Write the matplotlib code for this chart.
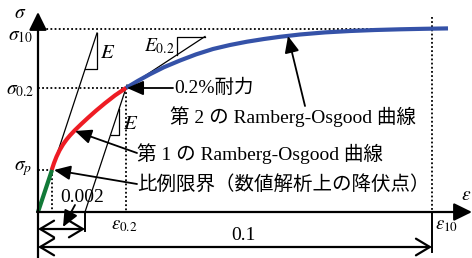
import matplotlib
matplotlib.use("Agg")
import matplotlib.pyplot as plt

plt.rcParams['mathtext.fontset'] = 'stix'
FAM = ['Liberation Serif', 'Noto Sans CJK JP', 'DejaVu Sans']

# ---- schematic data (horizontal = strain axis units, vertical = stress axis units) ----
eps_p, sig_p = 14, 42
eps_02, sig_02 = 88, 124
eps_10, sig_10 = 394, 183
offset_002 = 47

green_x = [0, 14]
green_y = [0, 42]

red_x = [13.7, 16, 18.5, 21.5, 25, 28.5, 32, 37, 43, 50, 58, 67, 77, 88]
red_y = [42, 48.9, 55.3, 61.6, 67.5, 72.4, 76.6, 81.9, 87.7, 94.2, 101.3, 108.8, 116.6, 124.1]

blue_x = [88, 100, 112, 126, 142, 158, 175, 192, 209, 226, 242, 262, 287, 312, 337, 362, 386, 410]
blue_y = [124, 131.2, 137.8, 144.8, 151.5, 157.6, 163, 167, 170.3, 173, 175.2, 177.5, 179.6, 181, 182, 182.7, 183.2, 183.6]

E_line_x = [0, 59]
E_line_y = [0, 179]
E_tri_x = [47, 59, 59]
E_tri_y = [143, 143, 179]

off_line_x = [47, 89]
off_line_y = [0, 127]
off_tri_x = [72.5, 81, 81]
off_tri_y = [77, 77, 102.7]

tan_x = [70, 167]
tan_y = [112, 175.5]
tan_tri_x = [139, 139, 167]
tan_tri_y = [157, 175.5, 175.5]

fig = plt.figure(figsize=(4.72, 2.58), dpi=100)
ax = fig.add_axes([0, 0, 1, 1])
ax.set_xlim(-38, 434)
ax.set_ylim(-46, 212)
ax.axis('off')

dot = dict(color='black', lw=1.3, linestyle=(0, (1, 1.3)))
thin = dict(color='black', lw=0.9)

# dotted guides
ax.plot([0, eps_10], [sig_10, sig_10], **dot)
ax.plot([eps_10, eps_10], [195, 0], **dot)
ax.plot([0, eps_02], [sig_02, sig_02], **dot)
ax.plot([eps_02, eps_02], [sig_02, 0], **dot)
ax.plot([0, eps_p], [sig_p, sig_p], **dot)
ax.plot([eps_p, eps_p], [sig_p, 0], **dot)

# construction lines
ax.plot(E_line_x, E_line_y, **thin)
ax.plot(E_tri_x, E_tri_y, **thin)
ax.plot(off_line_x, off_line_y, **thin)
ax.plot(off_tri_x, off_tri_y, **thin)
ax.plot(tan_x, tan_y, **thin)
ax.plot(tan_tri_x, tan_tri_y, **thin)

# curves
ax.plot(blue_x, blue_y, color='#3552a8', lw=3.0, solid_capstyle='butt', solid_joinstyle='round', zorder=3)
ax.plot(red_x, red_y, color='#ee1c24', lw=3.0, solid_capstyle='butt', solid_joinstyle='round', zorder=3)
ax.plot(green_x, green_y, color='#127a38', lw=3.0, solid_capstyle='butt', zorder=3)

# axes with arrows
axkw = dict(arrowstyle='-|>,head_length=0.55,head_width=0.27', color='black', lw=1.6,
            shrinkA=0, shrinkB=0, mutation_scale=20)
ax.annotate('', xy=(0, 200), xytext=(0, -46), arrowprops=axkw, zorder=4)
ax.annotate('', xy=(434, 0), xytext=(-1, 0), arrowprops=axkw, zorder=4)

# dimension lines
ax.plot([offset_002, offset_002], [-1, -19], color='black', lw=1.4)
ax.plot([eps_10, eps_10], [-1, -40], color='black', lw=1.4)
dimkw = dict(arrowstyle='<->,head_length=0.5,head_width=0.3', color='black', lw=1.6,
             shrinkA=0, shrinkB=0, mutation_scale=20)
ax.annotate('', xy=(0, -17), xytext=(offset_002, -17), arrowprops=dimkw)
ax.annotate('', xy=(0, -35), xytext=(eps_10, -35), arrowprops=dimkw)

# annotation arrows
ann = dict(arrowstyle='-|>,head_length=0.5,head_width=0.22', color='black', lw=1.3,
           shrinkA=0, shrinkB=0, mutation_scale=20)
ax.annotate('', xy=(89, 124), xytext=(135, 124), arrowprops=ann, zorder=5)
ax.annotate('', xy=(250, 176), xytext=(267, 106), arrowprops=ann, zorder=5)
ax.annotate('', xy=(37, 81), xytext=(99, 59), arrowprops=ann, zorder=5)
ax.annotate('', xy=(16, 42), xytext=(99, 28), arrowprops=ann, zorder=5)
ax.annotate('', xy=(25, -15), xytext=(37, 7), arrowprops=ann, zorder=5)

fs = 14
# texts
ax.text(136, 124, '0.2%耐力', family=FAM, fontsize=fs, ha='left', va='center')
ax.text(132, 95, '第 2 の Ramberg-Osgood 曲線', family=FAM, fontsize=fs, ha='left', va='center')
ax.text(99, 58, '第 1 の Ramberg-Osgood 曲線', family=FAM, fontsize=fs, ha='left', va='center')
ax.text(99, 28, '比例限界（数値解析上の降伏点）', family=FAM, fontsize=fs, ha='left', va='center')
ax.text(44, 15, '0.002', family=FAM, fontsize=fs, ha='center', va='center')
ax.text(205, -23, '0.1', family=FAM, fontsize=fs, ha='center', va='center')

# math labels
ax.text(-18, 199, r'$\sigma$', fontsize=fs, ha='center', va='center')
ax.text(-17, 177, r'$\sigma_{10}$', fontsize=fs, ha='center', va='center')
ax.text(-18, 123, r'$\sigma_{0.2}$', fontsize=fs, ha='center', va='center')
ax.text(-15, 43, r'$\sigma_{p}$', fontsize=fs, ha='center', va='center')
ax.text(428, 17, r'$\varepsilon$', fontsize=fs, ha='center', va='center')
ax.text(86, -12, r'$\varepsilon_{0.2}$', fontsize=fs - 0.5, ha='center', va='center')
ax.text(397, -12, r'$\varepsilon_{10}$', fontsize=fs - 0.5, ha='left', va='center')
ax.text(62, 160, r'$E$', fontsize=fs + 1, ha='left', va='center')
ax.text(85, 89, r'$E$', fontsize=fs + 1, ha='left', va='center')
ax.text(137, 166, r'$E_{0.2}$', fontsize=fs, ha='right', va='center')

fig.savefig('out.png', dpi=100)
